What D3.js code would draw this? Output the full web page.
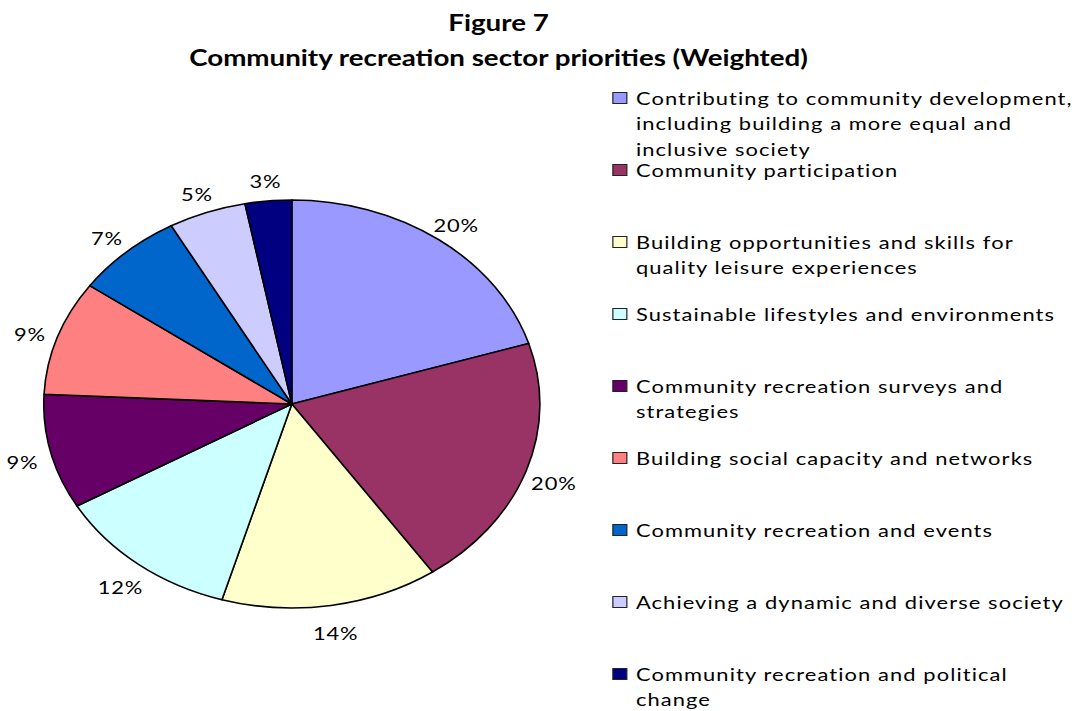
<!DOCTYPE html>
<html>
<head>
<meta charset="utf-8">
<script src="https://cdn.jsdelivr.net/npm/d3@7"></script>
<style>
  body { margin: 0; background: #fff; }
  svg { display: block; }
</style>
</head>
<body>
<svg id="chart" width="1089" height="711"></svg>
<script>
// Sector priorities, weighted share (%)
const categories = [
  "Contributing to community development, including building a more equal and inclusive society",
  "Community participation",
  "Building opportunities and skills for quality leisure experiences",
  "Sustainable lifestyles and environments",
  "Community recreation surveys and strategies",
  "Building social capacity and networks",
  "Community recreation and events",
  "Achieving a dynamic and diverse society",
  "Community recreation and political change"
];
const values = [20, 20, 14, 12, 9, 9, 7, 5, 3];
const colors = ["#9999FF", "#993366", "#FFFFCC", "#CCFFFF", "#660066",
                "#FF8080", "#0066CC", "#CCCCFF", "#000080"];
const titleLines = ["Figure 7", "Community recreation sector priorities (Weighted)"];

// The whole chart is laid out in a narrower frame and widened horizontally.
const stretch = 1.216;
const svg = d3.select("#chart");
const root = svg.append("g").attr("transform", `scale(${stretch},1)`);

const fontMain = "Lato, 'Open Sans', sans-serif";

// Title
root.append("g")
  .selectAll("text")
  .data(titleLines)
  .join("text")
  .attr("x", 410)
  .attr("y", (d, i) => 31 + i * 35)
  .attr("text-anchor", "middle")
  .attr("font-family", fontMain)
  .attr("font-weight", 700)
  .attr("font-size", 22.8)
  .attr("fill", "#000")
  .text(d => d);

// Pie
const cx = 240, cy = 404, R = 204;
const pie = d3.pie().sort(null).value(d => d);
const arcs = pie(values);
const arc = d3.arc().innerRadius(0).outerRadius(R);
const labelArc = d3.arc().innerRadius(R + 24).outerRadius(R + 24);

const pieG = root.append("g").attr("transform", `translate(${cx},${cy})`);
pieG.selectAll("path")
  .data(arcs)
  .join("path")
  .attr("d", arc)
  .attr("fill", (d, i) => colors[i])
  .attr("stroke", "#000")
  .attr("stroke-width", 1.6)
  .attr("stroke-linejoin", "round")
  .attr("vector-effect", "non-scaling-stroke");

pieG.selectAll("text")
  .data(arcs)
  .join("text")
  .attr("transform", d => `translate(${labelArc.centroid(d)})`)
  .attr("text-anchor", "middle")
  .attr("dy", "0.62em")
  .attr("font-family", fontMain)
  .attr("font-size", 18)
  .attr("letter-spacing", 0.7)
  .attr("fill", "#000")
  .text(d => d.data + "%");

// Legend
const legX = 504, legTextX = 523, legTop = 98, legStep = 72, lineH = 26, wrapW = 366;
const legend = root.append("g");

const measurer = legend.append("text")
  .attr("font-family", fontMain)
  .attr("font-size", 18)
  .attr("letter-spacing", 0.9)
  .attr("visibility", "hidden");

function wrap(str) {
  const words = str.split(" ");
  const lines = [];
  let line = "";
  for (const w of words) {
    const test = line ? line + " " + w : w;
    measurer.text(test);
    if (line && measurer.node().getComputedTextLength() > wrapW) {
      lines.push(line);
      line = w;
    } else {
      line = test;
    }
  }
  if (line) lines.push(line);
  return lines;
}

const items = legend.selectAll("g.item")
  .data(categories)
  .join("g")
  .attr("class", "item")
  .attr("transform", (d, i) => `translate(0,${legTop + i * legStep})`);

items.append("rect")
  .attr("x", legX)
  .attr("y", -5.5)
  .attr("width", 11.5)
  .attr("height", 11)
  .attr("fill", (d, i) => colors[i])
  .attr("stroke", "#222")
  .attr("stroke-width", 1.2)
  .attr("vector-effect", "non-scaling-stroke");

items.append("text")
  .attr("font-family", fontMain)
  .attr("font-size", 18)
  .attr("letter-spacing", 0.9)
  .attr("fill", "#000")
  .selectAll("tspan")
  .data(d => wrap(d))
  .join("tspan")
  .attr("x", legTextX)
  .attr("y", (d, i) => 6.5 + i * lineH)
  .text(d => d);

measurer.remove();
</script>
</body>
</html>
